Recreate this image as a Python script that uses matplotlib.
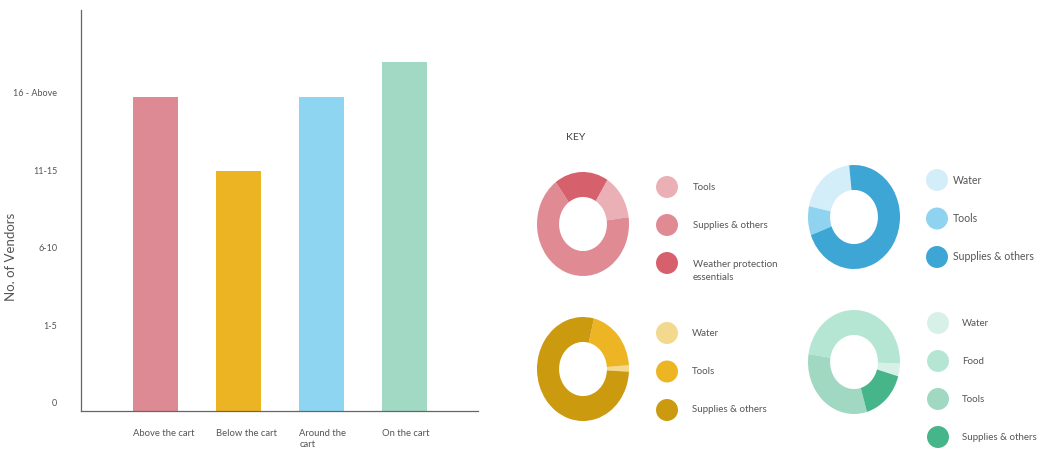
import matplotlib.pyplot as plt
from matplotlib.transforms import ScaledTranslation

W, H = 1037, 451
plt.rcParams['font.family'] = ['Lato', 'DejaVu Sans']
TXT = '#555555'

# bar chart data
positions = ['Above the cart', 'Below the cart', 'Around the\ncart', 'On the cart']
vendor_level = [4.05, 3.1, 4.05, 4.5]
bar_colors = ['#DE8A94', '#ECB422', '#8ED5F1', '#A1D9C5']
level_ticks = [0, 1, 2, 3, 4]
level_labels = ['0', '1-5', '6-10', '11-15', '16 - Above']

# donut data, shares in percent
pink_labels = ['Tools', 'Supplies & others', 'Weather protection\nessentials']
pink_share = [14, 67, 19]
pink_colors = ['#EBAFB6', '#E08A94', '#D6616D']

blue_labels = ['Water', 'Tools', 'Supplies & others']
blue_share = [20, 9, 71]
blue_colors = ['#D3EDF9', '#8FD3F0', '#3DA6D4']

yellow_labels = ['Water', 'Tools', 'Supplies & others']
yellow_share = [2, 20, 78]
yellow_colors = ['#F3D98E', '#EDB524', '#CC9A0F']

green_labels = ['Water', 'Food', 'Tools', 'Supplies & others']
green_share = [4, 48, 32, 16]
green_colors = ['#D8F1E8', '#B5E6D4', '#A0D8C2', '#46B589']


def px_axes(fig, x0, y0, x1, y1):
    # axes from pixel box (top-left origin)
    return fig.add_axes([x0 / W, 1 - y1 / H, (x1 - x0) / W, (y1 - y0) / H])


fig = plt.figure(figsize=(W / 100, H / 100), dpi=100)

# ---- bars ----
ax = px_axes(fig, 81, 10, 478, 411)
xs = list(range(len(positions)))
bw = 0.54
ax.bar(xs, vendor_level, width=bw, color=bar_colors)
ax.set_xlim(-0.9, 3.88)
ax.set_ylim(0, 5.17)
ax.set_yticks(level_ticks)
ax.set_yticklabels(level_labels, fontsize=6.5, color=TXT)
ax.set_xticks([x - bw / 2 for x in xs])
ax.set_xticklabels(positions, fontsize=6.8, color=TXT, ha='left', va='top',
                   linespacing=1.3)
ax.tick_params(axis='both', length=0)
ax.tick_params(axis='y', pad=17)
ax.tick_params(axis='x', pad=13)
shift = ScaledTranslation(0, 0.08, fig.dpi_scale_trans)
for lab in ax.get_yticklabels():
    lab.set_transform(lab.get_transform() + shift)
for side in ['top', 'right']:
    ax.spines[side].set_visible(False)
for side in ['left', 'bottom']:
    ax.spines[side].set_color('#666666')
    ax.spines[side].set_linewidth(0.9)
ax.set_ylabel('No. of Vendors', fontsize=9.5, color=TXT)
ax.yaxis.set_label_coords(-0.162, 0.384)

# ---- donuts ----
donuts = [
    (pink_share, pink_colors, 583, 224, 58, False),
    (blue_share, blue_colors, 854, 217, 96, True),
    (yellow_share, yellow_colors, 583, 369, -3, True),
    (green_share, green_colors, 854, 362, 344, True),
]
for share, cols, cx, cy, start, ccw in donuts:
    dax = px_axes(fig, cx - 46, cy - 52, cx + 46, cy + 52)
    dax.pie(share, colors=cols, startangle=start, counterclock=ccw, radius=1,
            wedgeprops=dict(width=0.48, linewidth=0))
    dax.set_aspect('auto')
    dax.set_xlim(-1, 1)
    dax.set_ylim(-1, 1)
    dax.axis('off')

# ---- keys ----
kax = px_axes(fig, 0, 0, W, H)
kax.set_xlim(0, W)
kax.set_ylim(H, 0)
kax.axis('off')
kax.set_zorder(-1)
kax.text(566, 138, 'KEY', fontsize=7.5, color='#444444', va='center')

keys = [
    (pink_labels, pink_colors, 667, 693, 187, 38, 7),
    (blue_labels, blue_colors, 937, 953, 180, 38.5, 7.6),
    (yellow_labels, yellow_colors, 667, 692, 333, 38.5, 7),
    (green_labels, green_colors, 938, 962, 323, 38, 7),
]
for labels, cols, mx, tx, y0, step, fs in keys:
    for i, (lab, c) in enumerate(zip(labels, cols)):
        y = y0 + i * step
        kax.scatter([mx], [y], s=250, color=c, edgecolors='none')
        dy = 8 if '\n' in lab else 0
        kax.text(tx, y + dy, lab, fontsize=fs, color=TXT, va='center',
                 linespacing=1.5)

fig.savefig('out.png', dpi=100)
